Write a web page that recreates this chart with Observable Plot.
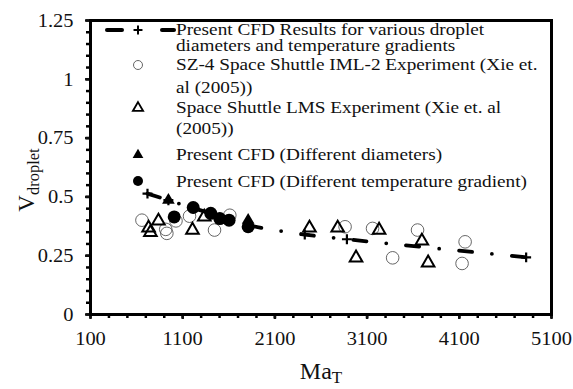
<!DOCTYPE html>
<html><head><meta charset="utf-8">
<script src="https://cdn.jsdelivr.net/npm/d3@7"></script>
<script src="https://cdn.jsdelivr.net/npm/@observablehq/plot@0.6"></script>
<style>
body{margin:0;background:#fff}
svg{font-family:"Liberation Serif","Times New Roman",serif}
</style>
</head><body><div id="chart"></div>
<script>
// ---- data ----
const xTicks = [100, 1100, 2100, 3100, 4100, 5100];
const yTicks = [0, 0.25, 0.5, 0.75, 1, 1.25];
const yTickLabels = ["0", "0.25", "0.5", "0.75", "1", "1.25"];

// Present CFD results (dash-dot line with + markers)
const cfdLineMa = [718, 945, 1214, 1404, 1603, 1810, 2424, 2881, 4825];
const cfdLineV  = [0.514, 0.486, 0.452, 0.43, 0.405, 0.38, 0.34, 0.32, 0.243];

// SZ-4 Space Shuttle IML-2 (open circles)
const sz4Ma = [658, 916, 928, 1027, 1174, 1445, 1611, 2861, 3159, 3377, 3647, 4163, 4130];
const sz4V  = [0.401, 0.362, 0.345, 0.398, 0.418, 0.359, 0.422, 0.373, 0.366, 0.241, 0.359, 0.309, 0.217];

// Space Shuttle LMS (open triangles)
const lmsMa = [730, 750, 837, 1206, 1334, 2475, 2781, 2980, 3230, 3694, 3762];
const lmsV  = [0.368, 0.349, 0.398, 0.359, 0.415, 0.368, 0.368, 0.241, 0.359, 0.313, 0.22];

// Present CFD (different diameters) (filled triangles)
const diamMa = [945, 1810];
const diamV  = [0.486, 0.401];

// Present CFD (different temperature gradient) (filled circles)
const tempMa = [1008, 1214, 1404, 1502, 1603, 1810];
const tempV  = [0.415, 0.455, 0.43, 0.408, 0.401, 0.373];

const legendLines = [
  ["Present CFD Results for various droplet", "diameters and temperature gradients"],
  ["SZ-4 Space Shuttle IML-2 Experiment (Xie et.", "al (2005))"],
  ["Space Shuttle LMS Experiment (Xie et. al", "(2005))"],
  ["Present CFD (Different diameters)"],
  ["Present CFD (Different temperature gradient)"]
];

const toRows = (xs, ys) => xs.map((x, i) => ({x, y: ys[i]}));
const cfdLine = toRows(cfdLineMa, cfdLineV);
const sz4 = toRows(sz4Ma, sz4V);
const lms = toRows(lmsMa, lmsV);
const diam = toRows(diamMa, diamV);
const temp = toRows(tempMa, tempV);

const minorX = d3.range(100, 5101, 200);
const minorY = d3.range(0, 1.2501, 0.05);

const plot = Plot.plot({
  width: 573,
  height: 389,
  marginLeft: 90,
  marginRight: 22,
  marginTop: 20,
  marginBottom: 75,
  style: {fontFamily: '"Liberation Serif","Times New Roman",serif', background: "#fff", overflow: "visible"},
  x: {domain: [100, 5100]},
  y: {domain: [0, 1.25]},
  marks: [
    Plot.axisX({ticks: minorX, tickSize: 4, tickFormat: () => "", strokeWidth: 2.5, label: null}),
    Plot.axisX({ticks: xTicks, tickSize: 5, tickPadding: 12, fontSize: 19.5, strokeWidth: 2.5, tickFormat: d => String(d), label: null, color: "#111"}),
    Plot.axisY({ticks: minorY, tickSize: 4, tickFormat: () => "", strokeWidth: 2.5, label: null}),
    Plot.axisY({ticks: yTicks, tickSize: 5, tickPadding: 12, fontSize: 19.5, strokeWidth: 2.5, tickFormat: d => yTickLabels[yTicks.indexOf(d)], label: null, color: "#111"}),
    Plot.line(cfdLine, {x: "x", y: "y", stroke: "black", strokeWidth: 3.8, strokeDasharray: "13,20,0,20", strokeLinecap: "round", curve: "catmull-rom"}),
    Plot.dot(cfdLine, {x: "x", y: "y", symbol: "plus", r: 3.3, stroke: "black", strokeWidth: 2.2}),
    Plot.dot(sz4, {x: "x", y: "y", symbol: "circle", r: 6.3, stroke: "#555", strokeWidth: 0.9, fill: "none"}),
    Plot.dot(lms, {x: "x", y: "y", symbol: "triangle2", r: 6, stroke: "black", strokeWidth: 2, fill: "none"}),
    Plot.dot(diam, {x: "x", y: "y", symbol: "triangle", r: 4.7, fill: "black", stroke: "none"}),
    Plot.dot(temp, {x: "x", y: "y", symbol: "circle", r: 6.5, fill: "black", stroke: "none"}),
    Plot.frame({stroke: "black", strokeWidth: 3})
  ]
});

document.getElementById("chart").appendChild(plot);
const svg = d3.select(plot);

// widen axis tick texts slightly (reference font is wide)
svg.selectAll("text").each(function() {
  const el = this;
  if (!el.textContent) return;
  const t = el.getAttribute("transform") || "";
  const x = +el.getAttribute("x") || 0, y = +el.getAttribute("y") || 0;
  el.setAttribute("transform", `${t} translate(${x},${y}) scale(1.05,1) translate(${-x},${-y})`);
});

// ---- legend ----
const lg = svg.append("g").attr("font-size", 17.5).attr("fill", "#111").attr("text-anchor", "start");
const textX = 176;
const baselines = [[35, 51.5], [70, 93], [113, 134], [160], [187]];
legendLines.forEach((lines, i) => {
  lines.forEach((s, j) => {
    const b = baselines[i][j];
    lg.append("text").attr("x", textX).attr("y", b).text(s)
      .attr("transform", `translate(${textX},${b}) scale(1.1,1) translate(${-textX},${-b})`);
  });
});
const symX = 138;
// line sample
[[107, 122], [162, 174]].forEach(([a, b]) => {
  lg.append("line").attr("x1", a).attr("x2", b).attr("y1", 30).attr("y2", 30)
    .attr("stroke", "black").attr("stroke-width", 4).attr("stroke-linecap", "round");
});
lg.append("path").attr("d", d3.symbol(d3.symbolPlus, 28)()).attr("transform", `translate(${symX},30)`)
  .attr("stroke", "black").attr("stroke-width", 2).attr("fill", "none");
lg.append("circle").attr("cx", symX).attr("cy", 65).attr("r", 4.5).attr("fill", "none").attr("stroke", "#555").attr("stroke-width", 0.9);
lg.append("path").attr("d", d3.symbol(d3.symbolTriangle2, 75)()).attr("transform", `translate(${symX},108)`)
  .attr("stroke", "black").attr("stroke-width", 1.8).attr("fill", "none");
lg.append("path").attr("d", d3.symbol(d3.symbolTriangle, 50)()).attr("transform", `translate(${symX},155)`)
  .attr("fill", "black");
lg.append("circle").attr("cx", symX).attr("cy", 181).attr("r", 5).attr("fill", "black");

// ---- axis titles ----
const xt = svg.append("text").attr("x", 321).attr("y", 379).attr("text-anchor", "middle").attr("fill", "#111");
xt.append("tspan").attr("font-size", 24).text("Ma");
xt.append("tspan").attr("font-size", 17).attr("dy", 4).text("T");

const yt = svg.append("text").attr("transform", "translate(34,180) rotate(-90)").attr("text-anchor", "middle").attr("fill", "#111");
yt.append("tspan").attr("font-size", 23).text("V");
yt.append("tspan").attr("font-size", 16.5).attr("dy", 5).text("droplet");
</script>
</body></html>
